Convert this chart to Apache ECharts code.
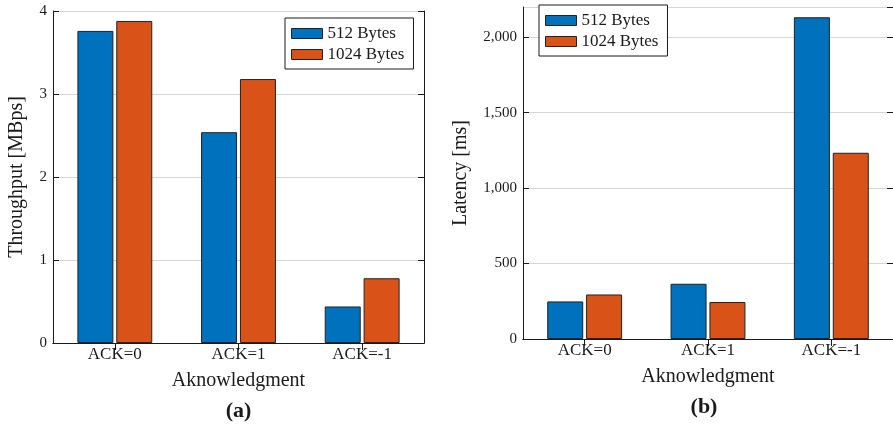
<!DOCTYPE html>
<html><head><meta charset="utf-8">
<script src="https://cdn.jsdelivr.net/npm/echarts@6/dist/echarts.min.js"></script>
<style>html,body{margin:0;padding:0;background:#fff}#c{width:893px;height:426px}</style>
</head><body><div id="c"></div>
<script>
const categories = ['ACK=0', 'ACK=1', 'ACK=-1'];
const seriesNames = ['512 Bytes', '1024 Bytes'];
const throughput512 = [3.76, 2.54, 0.44];
const throughput1024 = [3.88, 3.18, 0.78];
const latency512 = [249, 366, 2132];
const latency1024 = [295, 245, 1234];

const FONT = 'Liberation Serif';
const BLUE = '#0072BD', ORANGE = '#D95319';
const INK = '#1a1a1a';

function xAxes(gi) {
  return [
    { type: 'category', gridIndex: gi, data: categories, position: 'bottom',
      axisLine: { lineStyle: { color: INK, width: 1 } },
      axisTick: { inside: true, alignWithLabel: true, length: 6, lineStyle: { color: '#555' } },
      axisLabel: { fontFamily: FONT, fontSize: 17, color: INK, margin: 3 },
      name: 'Aknowledgment', nameLocation: 'middle', nameGap: 28,
      nameTextStyle: { fontFamily: FONT, fontSize: 20, color: INK } },
    { type: 'category', gridIndex: gi, data: categories, position: 'top',
      axisLine: { lineStyle: { color: INK, width: 1 } },
      axisTick: { show: true, inside: true, alignWithLabel: true, length: 7, lineStyle: { color: INK } },
      axisLabel: { show: false } }
  ];
}
function yAxes(gi, max, interval, name, gap, fmt, showMax) {
  return [
    { type: 'value', gridIndex: gi, min: 0, max: max, interval: interval, position: 'left',
      axisLine: { show: true, lineStyle: { color: INK, width: 1 } },
      axisTick: { show: true, inside: true, length: 6, lineStyle: { color: INK } },
      axisLabel: { fontFamily: FONT, fontSize: 15, color: INK, margin: 6, formatter: fmt,
        showMaxLabel: showMax },
      splitLine: { show: true, lineStyle: { color: '#d6d6d6', width: 1 } },
      name: name, nameLocation: 'middle', nameGap: gap,
      nameTextStyle: { fontFamily: FONT, fontSize: 20, color: INK } },
    { type: 'value', gridIndex: gi, min: 0, max: max, interval: interval, position: 'right',
      axisLine: { show: true, lineStyle: { color: INK, width: 1 } },
      axisTick: { show: true, inside: true, length: 6, lineStyle: { color: INK } },
      axisLabel: { show: false }, splitLine: { show: false } }
  ];
}
const fmtComma = v => v.toLocaleString('en-US');

function bar(name, data, color, xi, yi) {
  return { type: 'bar', name: name, data: data, xAxisIndex: xi, yAxisIndex: yi,
    barWidth: 36, barGap: '8%',
    itemStyle: { color: color, borderColor: '#222', borderWidth: 1 } };
}
function legend(left, top) {
  return { data: seriesNames, orient: 'vertical', left: left, top: top, icon: 'rect',
    padding: [7, 9, 6, 6], itemGap: 4, itemWidth: 31, itemHeight: 10, itemTextGap: 5,
    borderColor: INK, borderWidth: 1, backgroundColor: '#fff',
    itemStyle: { borderColor: '#222', borderWidth: 1 },
    textStyle: { fontFamily: FONT, fontSize: 17, color: INK } };
}

const chart = echarts.init(document.getElementById('c'), null, { renderer: 'canvas' });
chart.setOption({
  animation: false,
  backgroundColor: '#fff',
  grid: [
    { left: 53, right: 469, top: 11, bottom: 83 },
    { left: 523, right: -1, top: 7, bottom: 87 }
  ],
  xAxis: [...xAxes(0), ...xAxes(1)],
  yAxis: [...yAxes(0, 4, 1, 'Throughput [MBps]', 26, null, true),
          ...yAxes(1, 2200, 500, 'Latency [ms]', 52, fmtComma, false)],
  legend: [ legend(285, 18), legend(539, 5) ],
  series: [
    bar(seriesNames[0], throughput512, BLUE, 0, 0),
    bar(seriesNames[1], throughput1024, ORANGE, 0, 0),
    bar(seriesNames[0], latency512, BLUE, 2, 2),
    bar(seriesNames[1], latency1024, ORANGE, 2, 2)
  ],
  graphic: [
    { type: 'text', x: 238.5, y: 411, style: { text: '(a)', fontFamily: FONT, fontSize: 22, fontWeight: 'bold', fill: INK, align: 'center', verticalAlign: 'middle' } },
    { type: 'text', x: 704, y: 407, style: { text: '(b)', fontFamily: FONT, fontSize: 22, fontWeight: 'bold', fill: INK, align: 'center', verticalAlign: 'middle' } }
  ]
});
</script></body></html>
